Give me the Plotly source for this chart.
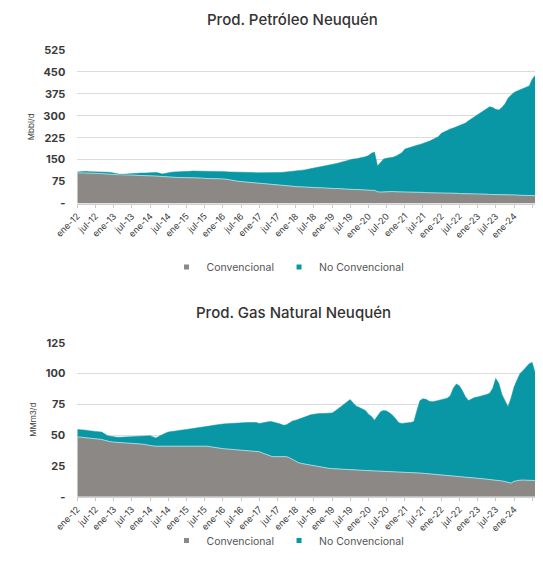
import pandas as pd
import plotly.graph_objects as go

# monthly series, ene-2012 .. dic-2024
meses = pd.date_range("2012-01-01", periods=156, freq="MS")

# Petróleo (Mbbl/d)
petroleo_conv = [
    105, 105, 104, 104, 104, 103, 103, 103, 102, 102, 101, 100,
    99, 99, 98, 98, 98, 97, 97, 97, 96, 96, 95, 95,
    95, 94, 94, 93, 92, 91, 91, 90, 90, 89, 89, 89,
    88, 88, 88, 87, 87, 87, 86, 86, 86, 85, 85, 85,
    84, 83, 82, 80, 78, 76, 75, 74, 73, 72, 71, 70,
    68, 67, 66, 65, 64, 63, 62, 61, 60, 60, 59, 59,
    58, 57, 57, 56, 56, 55, 55, 54, 54, 53, 53, 52,
    52, 51, 51, 50, 50, 49, 49, 48, 48, 47, 47, 46,
    46, 45, 45, 40, 39, 40, 41, 41, 41, 40, 40, 40,
    39, 39, 39, 38, 38, 38, 38, 37, 37, 37, 37, 36,
    36, 36, 35, 35, 35, 35, 34, 34, 34, 34, 33, 33,
    33, 32, 32, 32, 31, 31, 31, 30, 30, 30, 30, 29,
    29, 29, 28, 28, 28, 27, 27, 27, 27, 26, 26, 26,
]
petroleo_no_conv = [
    3, 4, 5, 6, 5, 6, 5, 5, 7, 6, 6, 6,
    4, 2, 2, 2, 3, 4, 5, 6, 7, 8, 9, 10,
    10, 12, 12, 11, 9, 12, 15, 17, 18, 19, 20, 20,
    22, 22, 23, 24, 24, 23, 24, 24, 24, 24, 24, 24,
    25, 26, 26, 28, 30, 31, 32, 32, 33, 34, 35, 35,
    37, 37, 38, 39, 40, 42, 43, 45, 47, 48, 49, 50,
    53, 55, 56, 59, 61, 64, 65, 68, 70, 73, 75, 78,
    82, 85, 87, 91, 94, 99, 101, 104, 105, 108, 111, 114,
    118, 127, 131, 88, 101, 112, 114, 115, 117, 122, 127, 134,
    147, 151, 154, 158, 161, 164, 167, 172, 176, 181, 185, 192,
    204, 210, 215, 220, 223, 227, 232, 236, 241, 249, 257, 265,
    272, 278, 286, 293, 300, 297, 291, 290, 298, 310, 330, 341,
    351, 356, 361, 365, 369, 375, 398, 413, 425, 434, 439, 444,
]

# Gas natural (MMm3/d)
gas_conv = [
    48.6, 48.4, 48.2, 48.0, 47.8, 47.6, 47.3, 47.0, 46.5, 45.8, 45.0, 44.6,
    44.3, 44.0, 43.8, 43.6, 43.5, 43.4, 43.3, 43.2, 43.0, 42.8, 42.5, 42.0,
    41.4, 41.2, 41.0, 41.0, 41.0, 41.1, 41.2, 41.2, 41.1, 41.0, 41.0, 41.0,
    41.0, 41.0, 41.2, 41.2, 41.3, 41.3, 41.2, 41.0, 40.5, 40.0, 39.5, 39.2,
    39.0, 38.8, 38.6, 38.4, 38.2, 38.0, 37.7, 37.4, 37.0, 36.7, 36.5, 36.5,
    36.5, 35.5, 34.5, 33.5, 32.8, 32.5, 32.5, 32.5, 32.5, 32.5, 31.5, 30.0,
    28.5, 27.5, 27.0, 26.5, 26.0, 25.5, 25.0, 24.5, 24.0, 23.5, 23.2, 23.0,
    22.8, 22.6, 22.4, 22.2, 22.0, 21.9, 21.8, 21.7, 21.6, 21.5, 21.4, 21.3,
    21.2, 21.0, 20.9, 20.8, 20.7, 20.6, 20.6, 20.5, 20.5, 20.4, 20.4, 20.3,
    20.2, 20.0, 19.8, 19.6, 19.4, 19.2, 19.0, 18.8, 18.6, 18.4, 18.2, 18.0,
    17.8, 17.6, 17.4, 17.2, 17.0, 16.8, 16.6, 16.4, 16.2, 16.0, 15.8, 15.5,
    15.0, 14.8, 14.5, 14.2, 14.0, 13.8, 13.5, 13.2, 12.8, 12.3, 11.5, 11.0,
    12.5, 13.2, 13.4, 13.5, 13.5, 13.4, 13.3, 13.2, 13.0, 12.8, 12.7, 12.5,
]
gas_no_conv = [
    6.0, 6.1, 5.8, 6.0, 5.7, 5.9, 5.7, 5.7, 6.0, 5.2, 4.4, 4.4,
    4.2, 4.3, 4.4, 4.7, 5.0, 5.3, 5.7, 5.8, 6.2, 6.5, 6.9, 7.4,
    8.0, 7.3, 6.6, 8.0, 9.5, 10.4, 11.3, 11.5, 11.9, 12.5, 13.0, 13.0,
    13.5, 14.0, 14.1, 14.4, 14.7, 14.7, 15.3, 16.0, 17.0, 18.0, 19.0, 19.8,
    20.0, 20.4, 20.8, 21.0, 21.4, 21.8, 22.3, 22.6, 23.2, 23.5, 23.9, 23.7,
    22.9, 24.5, 26.0, 27.3, 28.2, 28.0, 27.0, 26.5, 25.5, 26.0, 28.5, 31.5,
    33.5, 35.5, 37.0, 38.5, 40.0, 41.0, 42.0, 43.0, 43.5, 44.0, 44.4, 44.5,
    45.2, 46.9, 48.6, 50.8, 53.0, 55.1, 57.0, 54.3, 51.9, 51.0, 49.6, 48.7,
    45.8, 44.0, 41.1, 45.2, 48.3, 49.4, 48.9, 47.5, 45.5, 42.6, 39.6, 39.2,
    39.3, 40.0, 40.5, 41.4, 50.6, 58.8, 60.5, 60.2, 58.9, 58.6, 59.3, 60.0,
    60.7, 61.4, 62.6, 64.8, 71.0, 74.7, 73.4, 69.6, 64.8, 62.0, 63.7, 65.0,
    66.0, 66.7, 67.5, 68.8, 70.0, 74.2, 82.5, 78.8, 70.2, 65.7, 61.5, 69.0,
    76.5, 81.8, 86.6, 88.9, 91.5, 94.6, 95.7, 86.8, 73.0, 72.2, 71.3, 69.5,
]

tick_fechas = pd.date_range("2012-01-01", periods=26, freq="6MS")
tick_labels = [
    "ene-12", "jul-12", "ene-13", "jul-13", "ene-14", "jul-14", "ene-15", "jul-15",
    "ene-16", "jul-16", "ene-17", "jul-17", "ene-18", "jul-18", "ene-19", "jul-19",
    "ene-20", "jul-20", "ene-21", "jul-21", "ene-22", "jul-22", "ene-23", "jul-23",
    "ene-24", "jul-24",
]
petroleo_ticks = [0, 75, 150, 225, 300, 375, 450, 525]
gas_ticks = [0, 25, 50, 75, 100, 125]

GRIS = "#8c8886"
TEAL = "#0a97a5"
BORDE = "#a3d6da"
FONT = "Inter, sans-serif"
TXT = "#3a3a3a"

# the page body keeps its default 8px margin, so the figure is 16px smaller than the window
W, H = 527, 547
OFF = 8

fig = go.Figure()

# stacked areas (legend entries are drawn by the marker-only traces below)
for conv, no_conv, grp, xa, ya in [
    (petroleo_conv, petroleo_no_conv, "a", "x", "y"),
    (gas_conv, gas_no_conv, "b", "x2", "y2"),
]:
    fig.add_trace(go.Scatter(x=meses, y=conv, name="Convencional", stackgroup=grp,
                             fillcolor=GRIS, line=dict(color=BORDE, width=1),
                             xaxis=xa, yaxis=ya, showlegend=False))
    fig.add_trace(go.Scatter(x=meses, y=no_conv, name="No Convencional", stackgroup=grp,
                             fillcolor=TEAL, line=dict(color=TEAL, width=0.5),
                             xaxis=xa, yaxis=ya, showlegend=False))

for lg, xa, ya in [("legend", "x", "y"), ("legend2", "x2", "y2")]:
    for nombre, color in [("Convencional", GRIS), ("No Convencional", TEAL)]:
        fig.add_trace(go.Scatter(x=[None], y=[None], mode="markers", name=nombre,
                                 marker=dict(symbol="square", size=5, color=color),
                                 xaxis=xa, yaxis=ya, legend=lg))


def px_x(x):
    return (x - OFF) / W


def px_y(y):
    return 1 - (y - OFF) / H


xaxis_common = dict(
    range=["2012-01-01", "2024-07-29"],
    domain=[px_x(77.3), 1],
    tickvals=tick_fechas,
    ticktext=tick_labels,
    tickangle=-45,
    tickfont=dict(family=FONT, size=9, color=TXT),
    ticks="outside",
    ticklen=3,
    tickcolor="#c8c8c8",
    showline=True,
    linecolor="#d0d0d0",
    linewidth=1,
    showgrid=False,
    zeroline=False,
    automargin=False,
)


def yaxis_common(ticks, rng, domain, title, anchor):
    return dict(
        range=rng,
        domain=domain,
        anchor=anchor,
        tickvals=ticks,
        ticktext=["-"] + [str(t) for t in ticks[1:]],
        tickfont=dict(family=FONT, size=11, color=TXT, weight="bold"),
        ticklabelstandoff=11,
        showgrid=True,
        gridcolor="#dcdcdc",
        gridwidth=1,
        zeroline=False,
        showline=False,
        automargin=False,
        title=dict(text=title, font=dict(family=FONT, size=8, color=TXT), standoff=7),
    )


legend_common = dict(
    orientation="h",
    xanchor="center",
    x=px_x(288),
    traceorder="normal",
    font=dict(family=FONT, size=10.5, color="#555555"),
    itemwidth=30,
    tracegroupgap=0,
    bgcolor="rgba(0,0,0,0)",
)

fig.update_layout(
    width=W,
    height=H,
    margin=dict(l=0, r=0, t=0, b=0),
    paper_bgcolor="white",
    plot_bgcolor="white",
    showlegend=True,
    xaxis=dict(xaxis_common, anchor="y"),
    xaxis2=dict(xaxis_common, anchor="y2"),
    yaxis=yaxis_common(petroleo_ticks, [0, 525], [px_y(203.5), px_y(50)], "Mbbl/d", "x"),
    yaxis2=yaxis_common(gas_ticks, [0, 125], [px_y(496.7), px_y(342.7)], "MMm3/d", "x2"),
    legend=dict(legend_common, y=px_y(267), yanchor="middle"),
    # kept inside the paper so it does not push the bottom margin
    legend2=dict(legend_common, y=0, yanchor="bottom"),
    annotations=[
        dict(text="Prod. Petróleo Neuquén", x=px_x(292), y=px_y(19), xref="paper", yref="paper",
             xanchor="center", yanchor="middle", showarrow=False,
             font=dict(family=FONT, size=15, color="#333333", weight=500)),
        dict(text="Prod. Gas Natural Neuquén", x=px_x(293), y=px_y(313), xref="paper", yref="paper",
             xanchor="center", yanchor="middle", showarrow=False,
             font=dict(family=FONT, size=15, color="#333333", weight=500)),
    ],
)

fig.write_html("out.html")
